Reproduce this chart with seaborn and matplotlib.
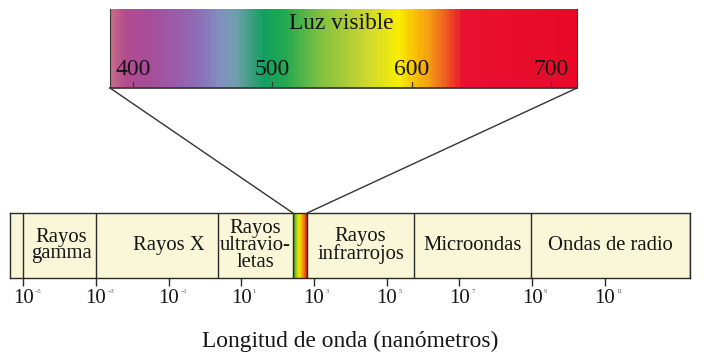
import numpy as np
import matplotlib
matplotlib.use("Agg")
import matplotlib.pyplot as plt
from matplotlib.colors import LinearSegmentedColormap
from matplotlib.patches import ConnectionPatch
import seaborn as sns

# ---------------- data ----------------
# electromagnetic regions, bounds in log10(nanometres)
region_names = ["Rayos\ngamma", "Rayos X", "Rayos\nultravio-\nletas",
                "Rayos\ninfrarrojos", "Microondas", "Ondas de radio"]
region_start = [-5.0, -3.0, 0.36, 2.81, 5.75, 8.97]
region_end = [-3.0, 0.36, 2.42, 5.75, 8.97, 13.34]
label_center = [-3.95, -0.98, 1.39, 4.28, 7.36, 11.15]
axis_lo, axis_hi = -5.36, 13.34
visible_band = [2.42, 2.81]
tick_exponents = [-5, -3, -1, 1, 3, 5, 7, 9, 11]

# visible-light detail (nm)
spectrum_lo, spectrum_hi = 384, 718
spectrum_ticks = [400, 500, 600, 700]
spectrum_wl = [384, 394, 409, 430, 448, 462, 473, 484, 494, 509, 534, 569, 591, 598, 612, 626, 637, 718]
spectrum_col = ["#c56c86", "#b24c8f", "#a84c98", "#9a5ba9", "#8a70b8", "#8290c0", "#6f9fae",
                "#3f9f80", "#12a060", "#22a850", "#80c040", "#d0d830", "#f8ee00", "#f8d000",
                "#f5a012", "#ee5522", "#e81030", "#e80a28"]
band_col = ["#1a9a40", "#8cc020", "#f0e800", "#f4c000", "#f07000", "#d82020"]

# ---------------- style ----------------
sns.set_theme(style="white")
plt.rcParams["font.family"] = ["Liberation Serif", "DejaVu Serif"]

fig = plt.figure(figsize=(7.12, 3.61), dpi=100)
W, H = 712, 361
ax_b = fig.add_axes([10 / W, 1 - 278 / H, 680 / W, 65 / H])
ax_t = fig.add_axes([110 / W, 1 - 88 / H, 467 / W, 79 / H])

edge = "#2a2a2a"
fill = "#f9f7d8"
txt = "#151515"

# ---------------- bottom: full spectrum ----------------
ax_b.set_xscale("log")
ax_b.set_xlim(10 ** axis_lo, 10 ** axis_hi)
ax_b.set_ylim(0, 1)
ax_b.set_facecolor(fill)
for b in sorted(set(region_start + region_end)):
    ax_b.axvline(10 ** b, color=edge, lw=1.0)
n = 40
edges = np.linspace(visible_band[0], visible_band[1], n + 1)
bcmap = LinearSegmentedColormap.from_list("band", band_col)
for i in range(n):
    ax_b.axvspan(10 ** edges[i], 10 ** edges[i + 1], color=bcmap(i / (n - 1)), lw=0)
for name, c in zip(region_names, label_center):
    ax_b.text(10 ** c, 0.5, name, ha="center", va="center", fontsize=14.9,
              linespacing=0.84, color=txt)
ax_b.set_xticks([10.0 ** e for e in tick_exponents])
ax_b.set_xticklabels(["10"] * len(tick_exponents), fontsize=15)
for lab in ax_b.get_xticklabels():
    lab.set_color(txt)
for e in tick_exponents:
    ax_b.annotate(str(e).replace("-", "−"), xy=(10.0 ** e, 0), xycoords=("data", "axes fraction"),
                  xytext=(8.4, -9.5), textcoords="offset points", fontsize=4.5,
                  ha="left", va="center", color="#555555")
ax_b.minorticks_off()
ax_b.tick_params(axis="x", direction="out", length=6, width=1, color=edge, pad=2, bottom=True)
ax_b.set_yticks([])
for s in ax_b.spines.values():
    s.set_color(edge)
    s.set_linewidth(1.0)
ax_b.set_xlabel("Longitud de onda (nanómetros)", fontsize=16.8, labelpad=16, color=txt)

# ---------------- top: visible light ----------------
wl = np.arange(spectrum_lo, spectrum_hi + 1)
cmap = LinearSegmentedColormap.from_list(
    "spec", [((w - spectrum_lo) / (spectrum_hi - spectrum_lo), c) for w, c in zip(spectrum_wl, spectrum_col)])
sns.heatmap(wl[np.newaxis, :], cmap=cmap, vmin=spectrum_lo, vmax=spectrum_hi, cbar=False,
            xticklabels=False, yticklabels=False, ax=ax_t)
ax_t.set_xlim(0, spectrum_hi - spectrum_lo + 1)
for k, s in ax_t.spines.items():
    s.set_visible(k != "top")
    s.set_color("#3a3a3a")
    s.set_linewidth(1.3 if k == "bottom" else 0.8)
for v in spectrum_ticks:
    x = v - spectrum_lo + 0.5
    ax_t.plot([x, x], [1.0, 0.93], color="#3a3a3a", lw=0.9)
    ax_t.text(x, 0.76, str(v), ha="center", va="center", fontsize=17, color=txt)
ax_t.text(550 - spectrum_lo, 0.18, "Luz visible", ha="center", va="center", fontsize=16.8,
          color=txt)

# connecting lines
for xa, xb in [(0.0, visible_band[0]), (1.0, visible_band[1])]:
    con = ConnectionPatch(xyA=(xa, 0.0), coordsA=ax_t.transAxes,
                          xyB=(10 ** xb, 1.0), coordsB=ax_b.transData,
                          color="#333333", lw=1.0)
    fig.add_artist(con)

fig.savefig("out.png", dpi=100, facecolor="white")
